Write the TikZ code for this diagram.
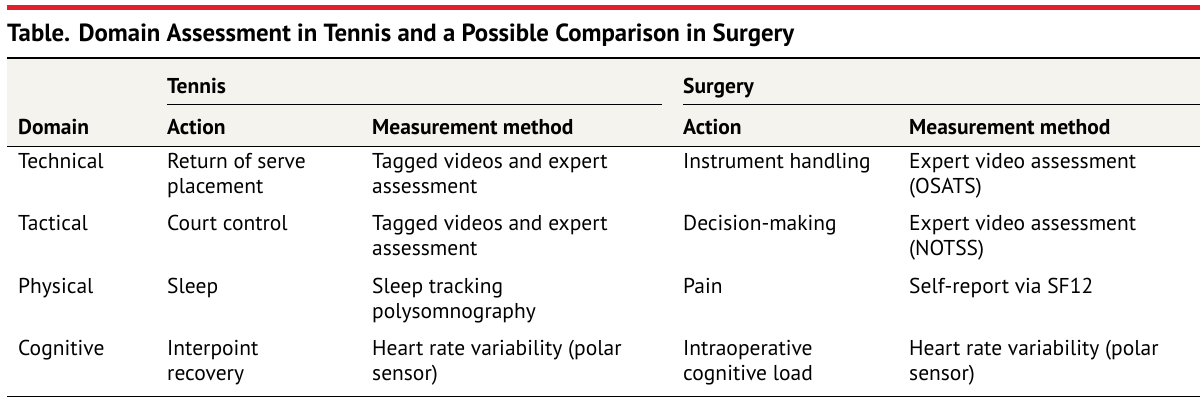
\documentclass[tikz,border=0pt]{standalone}
\usepackage{fontspec}
\setmainfont{PT Sans}
\definecolor{jred}{HTML}{E31E2D}
\definecolor{hbg}{HTML}{F4F3EE}
\begin{document}
\begin{tikzpicture}[x=1pt,y=-1pt,
  cell/.style={anchor=north west,inner sep=0pt,align=left,font=\fontsize{21.5}{25}\selectfont},
  hd/.style={cell,font=\fontsize{21.5}{25}\selectfont\bfseries}]
\useasboundingbox (0,0) rectangle (1200,402);
\fill[hbg] (7,59) rectangle (1200,146);
\fill[jred] (7,5) rectangle (1200,10);
\node[anchor=west,inner sep=0pt,font=\fontsize{24.8}{28}\selectfont\bfseries] (title) at (7,35) {Table. Domain Assessment in Tennis and a Possible Comparison in Surgery};
\draw[line width=1.5pt] (7,58) -- (1200,58);
\draw[line width=1pt] (167,104) -- (662,104);
\draw[line width=1pt] (683,104) -- (1200,104);
\draw[line width=1pt] (7,146) -- (1200,146);
\draw[line width=1pt] (7,396) -- (1200,396);
\node[hd] (t) at (167,78) {Tennis};
\node[hd] (s) at (683,78) {Surgery};
\node[hd] (h1) at (18,119) {Domain};
\node[hd] (h2) at (167,119) {Action};
\node[hd] (h3) at (372,119) {Measurement method};
\node[hd] (h4) at (683,119) {Action};
\node[hd] (h5) at (909,119) {Measurement method};
\foreach \y/\a/\b/\c/\d/\e [count=\i] in {
 153/Technical/{Return of serve\\placement}/{Tagged videos and expert\\assessment}/Instrument handling/{Expert video assessment\\(OSATS)},
 215/Tactical/Court control/{Tagged videos and expert\\assessment}/Decision-making/{Expert video assessment\\(NOTSS)},
 278/Physical/Sleep/{Sleep tracking\\polysomnography}/Pain/Self-report via SF12,
 340/Cognitive/{Interpoint\\recovery}/{Heart rate variability (polar\\sensor)}/{Intraoperative\\cognitive load}/{Heart rate variability (polar\\sensor)}}{
 \node[cell] (r\i a) at (18,\y) {\a};
 \node[cell] (r\i b) at (167,\y) {\b};
 \node[cell] (r\i c) at (372,\y) {\c};
 \node[cell] (r\i d) at (683,\y) {\d};
 \node[cell] (r\i e) at (909,\y) {\e};
}
\end{tikzpicture}
\end{document}
